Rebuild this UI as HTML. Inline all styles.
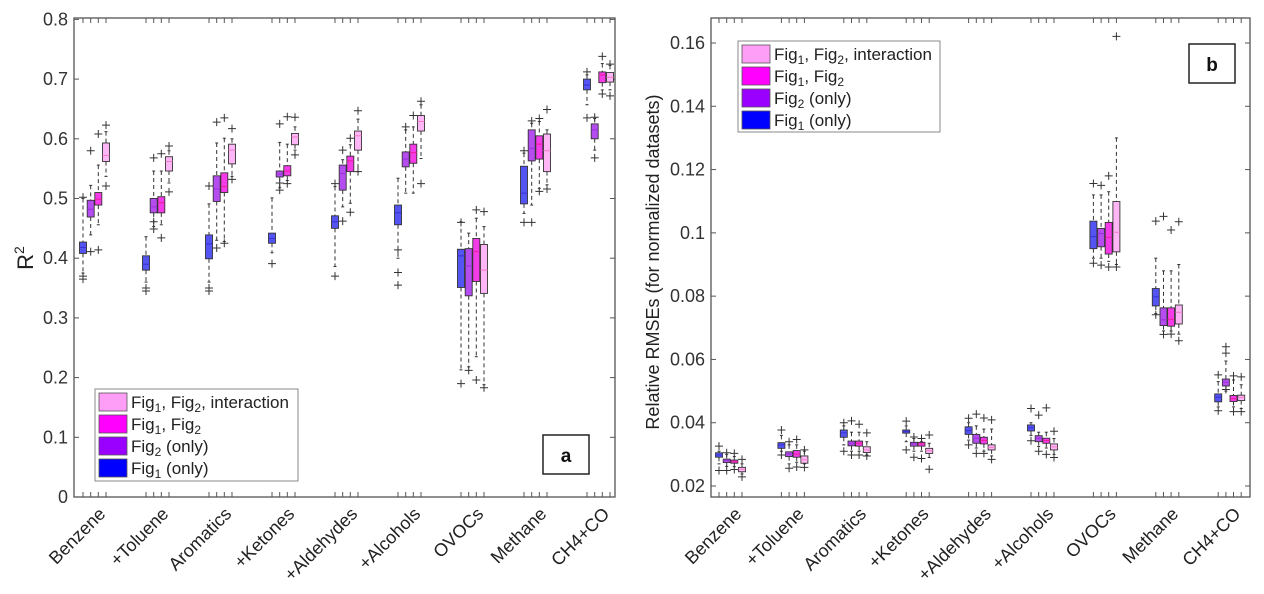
<!DOCTYPE html>
<html><head><meta charset="utf-8"><style>
html,body{margin:0;padding:0;background:#fff;}
svg{display:block;font-family:"Liberation Sans",Arial,sans-serif;}
</style></head><body>
<svg id="fig" width="1264" height="594" viewBox="0 0 1264 594" xmlns="http://www.w3.org/2000/svg"></svg>
<script>
const categories = ["Benzene","+Toluene","Aromatics","+Ketones","+Aldehydes","+Alcohols","OVOCs","Methane","CH4+CO"];
const seriesNames = ["Fig1 (only)","Fig2 (only)","Fig1, Fig2","Fig1, Fig2, interaction"];
// ---- Panel a: R^2 ----
const aQ1 = [[0.408,0.38,0.399,0.425,0.450,0.456,0.351,0.491,0.682],[0.469,0.476,0.495,0.536,0.514,0.553,0.337,0.563,0.600],[0.489,0.476,0.510,0.538,0.545,0.559,0.361,0.566,0.694],[0.562,0.546,0.558,0.590,0.581,0.613,0.341,0.545,0.695]];
const aMed = [[0.418,0.39,0.424,0.433,0.461,0.476,0.404,0.509,0.690],[0.482,0.486,0.516,0.541,0.542,0.566,0.387,0.584,0.615],[0.499,0.493,0.520,0.546,0.563,0.577,0.411,0.591,0.707],[0.572,0.562,0.581,0.603,0.605,0.629,0.380,0.580,0.703]];
const aQ3 = [[0.427,0.404,0.439,0.442,0.471,0.489,0.415,0.554,0.700],[0.497,0.500,0.538,0.546,0.556,0.578,0.416,0.615,0.625],[0.510,0.503,0.543,0.555,0.571,0.591,0.433,0.605,0.712],[0.593,0.570,0.591,0.609,0.613,0.639,0.423,0.608,0.711]];
const aLo = [[0.375,0.36,0.36,0.409,0.386,0.40,0.213,0.475,0.657],[0.439,0.453,0.43,0.518,0.486,0.509,0.218,0.489,0.581],[0.456,0.456,0.428,0.53,0.492,0.509,0.235,0.517,0.682],[0.537,0.526,0.537,0.581,0.545,0.567,0.188,0.523,0.682]];
const aHi = [[0.50,0.436,0.491,0.501,0.52,0.534,0.461,0.576,0.707],[0.522,0.546,0.593,0.594,0.565,0.615,0.442,0.626,0.634],[0.556,0.546,0.601,0.591,0.590,0.620,0.467,0.629,0.726],[0.612,0.580,0.60,0.62,0.633,0.657,0.453,0.615,0.723]];
const aOut = [
 [[0.37,0.365,0.502],[0.35,0.345],[0.35,0.345,0.521],[0.391],[0.37,0.525],[0.414,0.376,0.355],[0.19,0.46],[0.46,0.58],[0.712,0.635]],
 [[0.411,0.58],[0.461,0.449,0.568],[0.417,0.628],[0.526,0.514,0.625],[0.462,0.581],[0.62],[0.212],[0.46,0.63],[0.636,0.568]],
 [[0.414,0.608],[0.434,0.575],[0.425,0.635],[0.525,0.637],[0.477,0.601],[0.639],[0.481,0.196],[0.512,0.634],[0.738,0.675]],
 [[0.521,0.623],[0.511,0.588],[0.532,0.617],[0.573,0.636],[0.545,0.647],[0.525,0.663],[0.478,0.183],[0.516,0.649],[0.725,0.672]]];
const aTicks = [0,0.1,0.2,0.3,0.4,0.5,0.6,0.7,0.8];
const aTickLabels = ["0","0.1","0.2","0.3","0.4","0.5","0.6","0.7","0.8"];
// ---- Panel b: Relative RMSE ----
const bQ1 = [[0.0291,0.0319,0.0354,0.0367,0.0363,0.0374,0.0950,0.0769,0.0466],[0.0274,0.0293,0.0327,0.0326,0.0335,0.0340,0.0956,0.0707,0.0516],[0.0272,0.0291,0.0326,0.0326,0.0333,0.0335,0.0933,0.0705,0.0467],[0.0245,0.0272,0.0306,0.0303,0.0314,0.0314,0.0940,0.0712,0.0470]];
const bMed = [[0.0298,0.0330,0.0368,0.0372,0.0375,0.0384,0.0988,0.0798,0.0481],[0.0280,0.0301,0.0335,0.0333,0.0351,0.0351,0.0998,0.0725,0.0528],[0.0277,0.0301,0.0335,0.0333,0.0344,0.0344,0.0986,0.0727,0.0476],[0.0253,0.0283,0.0314,0.0312,0.0322,0.0324,0.1002,0.0749,0.0480]];
const bQ3 = [[0.0305,0.0337,0.0377,0.0377,0.0387,0.0393,0.1037,0.0824,0.0491],[0.0285,0.0308,0.0342,0.0338,0.0363,0.0359,0.1014,0.0763,0.0538],[0.0282,0.0312,0.0342,0.0338,0.0354,0.0351,0.1033,0.0763,0.0486],[0.0259,0.0295,0.0324,0.0319,0.0330,0.0333,0.1099,0.0772,0.0487]];
const bLo = [[0.027,0.031,0.033,0.034,0.0345,0.036,0.092,0.0745,0.045],[0.0262,0.027,0.031,0.031,0.032,0.0325,0.092,0.069,0.050],[0.0261,0.0275,0.031,0.031,0.031,0.032,0.091,0.069,0.045],[0.0238,0.027,0.0298,0.029,0.0295,0.030,0.090,0.068,0.0445]];
const bHi = [[0.031,0.036,0.039,0.039,0.040,0.040,0.112,0.092,0.053],[0.030,0.033,0.037,0.035,0.039,0.037,0.112,0.088,0.0595],[0.0293,0.033,0.037,0.034,0.038,0.037,0.113,0.088,0.0535],[0.027,0.031,0.034,0.0335,0.038,0.035,0.130,0.090,0.052]];
const bOut = [
 [[0.0326,0.0249],[0.0377,0.0298],[0.040,0.031],[0.0405,0.0314],[0.0414,0.033],[0.0445,0.0343],[0.1156,0.0904],[0.1037,0.0741],[0.0551,0.0438]],
 [[0.0305,0.0249],[0.034,0.0256],[0.0406,0.0298],[0.0355,0.0291],[0.0427,0.0303],[0.0424,0.031],[0.115,0.0898],[0.1052,0.0679],[0.064,0.062,0.0505]],
 [[0.0303,0.0252],[0.0347,0.026],[0.0395,0.0298],[0.035,0.0287],[0.0415,0.0303],[0.0447,0.030],[0.118,0.0892],[0.1009,0.068],[0.0548,0.0435]],
 [[0.0284,0.0229],[0.0314,0.0259],[0.0368,0.0295],[0.0361,0.0253],[0.0409,0.0284],[0.0373,0.029],[0.1621,0.0892],[0.1035,0.0659],[0.0545,0.0435]]];
const bTicks = [0.02,0.04,0.06,0.08,0.1,0.12,0.14,0.16];
const bTickLabels = ["0.02","0.04","0.06","0.08","0.1","0.12","0.14","0.16"];

const NS = "http://www.w3.org/2000/svg";
const svg = document.getElementById("fig");
const boxFill = ["#5454f2","#b54cf0","#f53ae8","#ffb6f6"];
const medCol = ["#3a2fd0","#9a2fd8","#e8209a","#f47ac8"];
const legFill = ["#0000ff","#9900ff","#ff00ff","#ff9ef6"];
const offs = [-11.5,-3.8,3.8,11.5];

function mk(tag, attrs, parent){
  const e = document.createElementNS(NS, tag);
  for (const k in attrs) e.setAttribute(k, attrs[k]);
  (parent||svg).appendChild(e);
  return e;
}

function panel(P){
  const g = mk("g",{});
  
  
  const y = v => P.y0 - (v - P.v0) / (P.v1 - P.v0) * (P.y0 - P.y1);
  const xc = i => P.cx0 + i * P.step;
  const fr = mk("rect",{x:P.left,y:P.top,width:P.right-P.left,height:P.bottom-P.top,fill:"none",stroke:"#555","stroke-width":1.3},g);
  
  
  P.ticks.forEach((t,k)=>{
    const yy = y(t);
    mk("line",{x1:P.left,x2:P.left+5,y1:yy,y2:yy,stroke:"#555"},g);
    mk("line",{x1:P.right,x2:P.right-5,y1:yy,y2:yy,stroke:"#555"},g);
    const tx = mk("text",{x:P.left-6,y:yy+6,"text-anchor":"end","font-size":18,fill:"#333"},g);
    tx.textContent = P.tickLabels[k];
    
    
  });
  categories.forEach((c,i)=>{
    const cx = xc(i);
    offs.forEach(o=>{
      mk("line",{x1:cx+o,x2:cx+o,y1:P.bottom,y2:P.bottom-5,stroke:"#555"},g);
      mk("line",{x1:cx+o,x2:cx+o,y1:P.top,y2:P.top+5,stroke:"#555"},g);
    });
    const lx = cx+12, ly = P.bottom+18;
    const t = mk("text",{x:lx,y:ly,"text-anchor":"end","font-size":18,fill:"#222",transform:`rotate(-45 ${lx} ${ly})`},g);
    t.textContent = c;
    
    
    for (let s=0;s<4;s++){
      const x = cx + offs[s];
      const bg = mk("g",{},g);
      
      
      const q1 = y(P.q1[s][i]), q3 = y(P.q3[s][i]), md = y(P.med[s][i]);
      const lo = y(P.lo[s][i]), hi = y(P.hi[s][i]);
      mk("line",{x1:x,x2:x,y1:hi,y2:q3,stroke:"#333","stroke-dasharray":"4,3","stroke-width":1},bg);
      mk("line",{x1:x,x2:x,y1:q1,y2:lo,stroke:"#333","stroke-dasharray":"4,3","stroke-width":1},bg);
      mk("line",{x1:x-1.5,x2:x+1.5,y1:hi,y2:hi,stroke:"#333"},bg);
      mk("line",{x1:x-1.5,x2:x+1.5,y1:lo,y2:lo,stroke:"#333"},bg);
      mk("rect",{x:x-3.5,y:q3,width:7,height:Math.max(q1-q3,1.5),fill:boxFill[s],stroke:"#333","stroke-width":0.9},bg);
      mk("line",{x1:x-3.5,x2:x+3.5,y1:md,y2:md,stroke:medCol[s],"stroke-width":1},bg);
      P.out[s][i].forEach(v=>{
        const oy = y(v);
        mk("path",{d:`M${x-4} ${oy}H${x+4}M${x} ${oy-4}V${oy+4}`,stroke:"#333","stroke-width":1},bg);
      });
    }
  });
  const L = P.leg;
  const lg = mk("g",{},g);
  
  
  mk("rect",{x:L.x,y:L.y,width:L.w,height:L.h,fill:"#fff",stroke:"#888","stroke-width":1},lg);
  const rows = [[3,"Fig","1",", Fig","2",", interaction"],[2,"Fig","1",", Fig","2",""],[1,"Fig","2"," (only)","",""],[0,"Fig","1"," (only)","",""]];
  rows.forEach((r,k)=>{
    const ry = L.y + 4 + k*22;
    const e = mk("g",{},lg);
    
    
    mk("rect",{x:L.x+4,y:ry,width:28,height:18,fill:legFill[r[0]],stroke:"#555","stroke-width":0.8},e);
    const t = mk("text",{x:L.x+36,y:ry+15,"font-size":17,fill:"#222"},e);
    const parts = [[r[1],0],[r[2],1],[r[3],0],[r[4],1],[r[5],0]];
    parts.forEach(p=>{
      if(!p[0]) return;
      const ts = mk("tspan",{},t);
      if(p[1]){ts.setAttribute("font-size","12");ts.setAttribute("dy","4");}
      else if(ts.previousSibling && ts.previousSibling.getAttribute("dy")==="4"){ts.setAttribute("dy","-4");}
      ts.textContent = p[0];
    });
  });
  const pl = mk("g",{},g);
  
  
  mk("rect",{x:P.lab.x,y:P.lab.y,width:46,height:39,fill:"#fff",stroke:"#222","stroke-width":1.5},pl);
  const lt = mk("text",{x:P.lab.x+23,y:P.lab.y+27,"text-anchor":"middle","font-size":19,"font-weight":"bold",fill:"#111"},pl);
  lt.textContent = P.lab.t;
  const yt = mk("text",{x:P.yt.x,y:P.yt.y,"text-anchor":"middle","font-size":P.yt.fs,fill:"#222",transform:`rotate(-90 ${P.yt.x} ${P.yt.y})`},g);
  
  
  if (P.yt.sup){ yt.textContent = "R"; const s = mk("tspan",{"font-size":14,dy:-9},yt); s.textContent="2"; }
  else yt.textContent = P.yt.t;
}

panel({name:"panel-a-r2",left:74,right:615,top:18,bottom:497,y0:497,y1:19.4,v0:0,v1:0.8,
  cx0:94.5,step:63.0,q1:aQ1,med:aMed,q3:aQ3,lo:aLo,hi:aHi,out:aOut,ticks:aTicks,tickLabels:aTickLabels,
  leg:{x:95,y:389,w:203,h:92},lab:{x:543,y:435,t:"a"},yt:{x:33,y:258,fs:22,sup:true}});
panel({name:"panel-b-rmse",left:711,right:1250,top:18,bottom:497,y0:486,y1:43,v0:0.02,v1:0.16,
  cx0:730.5,step:62.4,q1:bQ1,med:bMed,q3:bQ3,lo:bLo,hi:bHi,out:bOut,ticks:bTicks,tickLabels:bTickLabels,
  leg:{x:738,y:41,w:202,h:91},lab:{x:1189,y:44,t:"b"},yt:{x:659,y:262,fs:18,t:"Relative RMSEs (for normalized datasets)"}});
</script>
</body></html>
